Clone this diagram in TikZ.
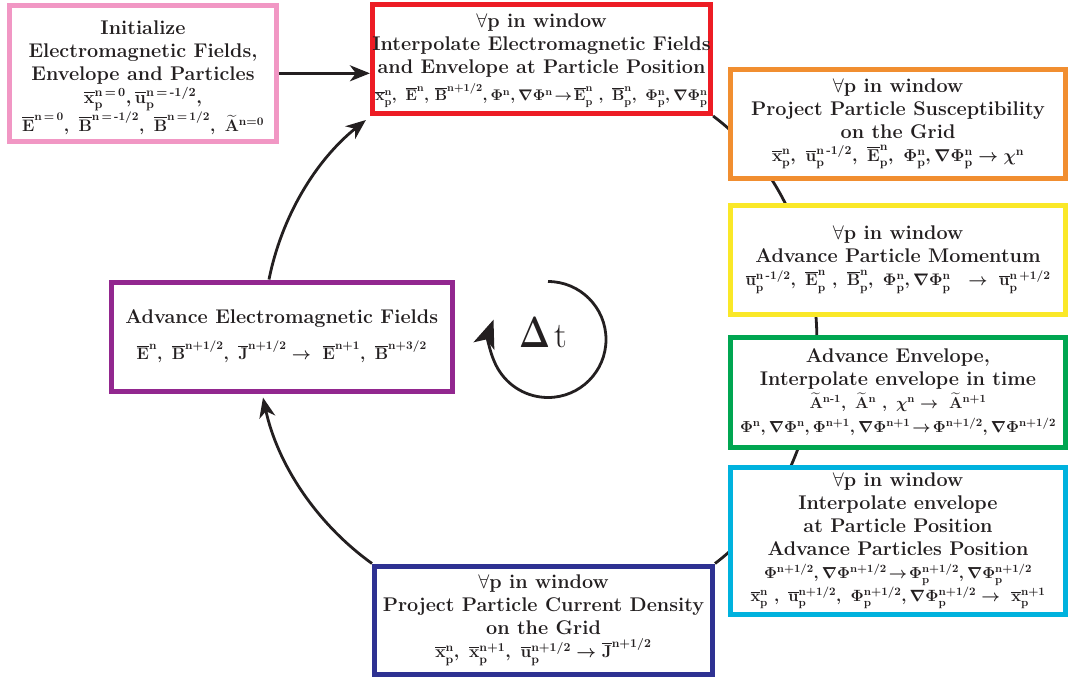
\RequirePackage{fix-cm}
\documentclass[tikz,border=0pt]{standalone}
\usepackage{amsmath}
\usepackage{graphicx}
\usetikzlibrary{arrows.meta,backgrounds}
\definecolor{pinkc}{RGB}{241,151,196}
\definecolor{redc}{RGB}{237,28,36}
\definecolor{orangec}{RGB}{241,142,48}
\definecolor{yellowc}{RGB}{250,232,40}
\definecolor{greenc}{RGB}{0,166,81}
\definecolor{cyanc}{RGB}{0,178,222}
\definecolor{dbluec}{RGB}{46,49,146}
\definecolor{purplec}{RGB}{146,39,143}
\definecolor{inkc}{RGB}{35,31,32}
\newcommand{\ob}[1]{\overline{\mathrm{#1}}}
\newcommand{\pn}{_{\mathrm{p}}^{\mathrm{n}}}
\newcommand{\tA}{\widetilde{\mathrm{A}}}
\newcommand{\fa}{{\unboldmath$\forall$}}
\newcommand{\fml}{\fontsize{17}{22}\selectfont}
\newcommand{\fl}[2]{\resizebox{#1}{!}{\fml #2}}
\tikzset{
  box/.style={draw=#1, line width=5pt, fill=white, inner sep=0pt, align=center,
    text=inkc, font=\fontsize{19.8}{23}\selectfont\bfseries\boldmath},
  conn/.style={draw=inkc, line width=2.8pt},
  arr/.style={-{Stealth[length=20pt,width=16pt,inset=6pt]}},
}
\begin{document}
\begin{tikzpicture}[x=1pt,y=1pt]
\useasboundingbox (0,0) rectangle (1068,-681);
\node[box=pinkc, minimum width=267pt, minimum height=135.5pt] (init) at (143,-73.3)
 {\fontsize{19.8}{22.3}\selectfont\rule{0pt}{22pt}Initialize\\ Electromagnetic Fields,\\ Envelope and Particles\\
  \fl{118pt}{$\ob{x}_{\mathrm{p}}^{\mathrm{n\,=\,0}},\ob{u}_{\mathrm{p}}^{\mathrm{n\,=\,\text{-}1/2}},$}\\
  \fl{242pt}{$\ob{E}^{\mathrm{n\,=\,0}},\ \ob{B}^{\mathrm{n\,=\,\text{-}1/2}},\ \ob{B}^{\mathrm{n\,=\,1/2}},\ \tA^{\mathrm{n=0}}$}};
\node[box=redc, minimum width=338pt, minimum height=109.5pt] (interp) at (541.5,-58.75)
 {\rule{0pt}{18pt}\fa p in window\\ Interpolate Electromagnetic Fields\\ and Envelope at Particle Position\\[4pt]
  \fl{332pt}{$\ob{x}\pn,\ \ob{E}^{\mathrm{n}},\,\ob{B}^{\mathrm{n+1/2}},\Phi^{\mathrm{n}},\nabla\Phi^{\mathrm{n}}\!\rightarrow\!\ob{E}\pn\ ,\ \ob{B}\pn,\ \Phi\pn,\nabla\Phi\pn$}};
\node[box=orangec, minimum width=335pt, minimum height=108.5pt] (susc) at (898,-123.75)
 {\fa p in window\\ Project Particle Susceptibility\\ on the Grid\\
  \fl{252pt}{$\ob{x}\pn,\ \ob{u}_{\mathrm{p}}^{\mathrm{n\,\text{-}1/2}},\ \ob{E}\pn,\ \Phi\pn,\nabla\Phi\pn\rightarrow\chi^{\mathrm{n}}$}};
\node[box=yellowc, minimum width=335pt, minimum height=108.5pt] (mom) at (898,-259.75)
 {\fa p in window\\ Advance Particle Momentum\\
  \fl{305pt}{$\ob{u}_{\mathrm{p}}^{\mathrm{n\,\text{-}1/2}},\ \ob{E}\pn\ ,\ \ob{B}\pn,\ \Phi\pn,\nabla\Phi\pn\ \ \rightarrow\ \ob{u}_{\mathrm{p}}^{\mathrm{n\,+1/2}}$}};
\node[box=greenc, minimum width=335pt, minimum height=110pt] (env) at (898,-392)
 {Advance Envelope,\\ Interpolate envelope in time\\
  \fl{177pt}{$\tA^{\mathrm{n\text{-}1}},\ \tA^{\mathrm{n}}\ ,\ \chi^{\mathrm{n}}\rightarrow\ \tA^{\mathrm{n+1}}$}\\[1pt]
  \fl{316pt}{$\Phi^{\mathrm{n}},\nabla\Phi^{\mathrm{n}},\Phi^{\mathrm{n+1}},\nabla\Phi^{\mathrm{n+1}}\!\rightarrow\!\Phi^{\mathrm{n+1/2}},\nabla\Phi^{\mathrm{n+1/2}}$}};
\node[box=cyanc, minimum width=335pt, minimum height=147pt] (push) at (898,-541)
 {\fa p in window\\ Interpolate envelope\\ at Particle Position\\ Advance Particles Position\\
  \fl{268pt}{$\Phi^{\mathrm{n+1/2}},\nabla\Phi^{\mathrm{n+1/2}}\!\rightarrow\!\Phi_{\mathrm{p}}^{\mathrm{n+1/2}},\nabla\Phi_{\mathrm{p}}^{\mathrm{n+1/2}}$}\\
  \fl{295pt}{$\ob{x}\pn\ ,\ \ob{u}_{\mathrm{p}}^{\mathrm{n+1/2}},\ \Phi_{\mathrm{p}}^{\mathrm{n+1/2}},\nabla\Phi_{\mathrm{p}}^{\mathrm{n+1/2}}\rightarrow\ \ob{x}_{\mathrm{p}}^{\mathrm{n+1}}$}};
\node[box=dbluec, minimum width=338pt, minimum height=108.5pt] (curr) at (543.5,-620.25)
 {\fa p in window\\ Project Particle Current Density\\ on the Grid\\
  \fl{216pt}{$\ob{x}\pn,\ \ob{x}_{\mathrm{p}}^{\mathrm{n+1}},\ \ob{u}_{\mathrm{p}}^{\mathrm{n+1/2}}\rightarrow\ob{J}^{\mathrm{n+1/2}}$}};
\node[box=purplec, minimum width=341.5pt, minimum height=109pt] (maxw) at (281.75,-336.5)
 {Advance Electromagnetic Fields\\[12pt]
  \fl{290pt}{$\ob{E}^{\mathrm{n}},\ \ob{B}^{\mathrm{n+1/2}},\ \ob{J}^{\mathrm{n+1/2}}\rightarrow\ \ob{E}^{\mathrm{n+1}},\ \ob{B}^{\mathrm{n+3/2}}$}};
% connectors
\draw[conn,arr] (init.east) -- (init.east -| interp.west);
\begin{pgfonlayer}{background}
\draw[conn] (interp.south east) to[bend left=53, looseness=0.98] (curr.north east);
\end{pgfonlayer}
\draw[conn,arr] (curr.north west) to[bend left=21, looseness=0.88] ([xshift=-18.75pt,yshift=-4pt]maxw.south);
\draw[conn,arr] ([xshift=-12.75pt]maxw.north) to[bend left=20, looseness=0.88] ([xshift=-4pt,yshift=-4pt]interp.south west);
% time step
\coordinate (dtc) at (548,-339.5);
\node[text=inkc, font=\fontsize{36}{40}\selectfont, anchor=base west, inner sep=0pt] (dt) at (519,-347) {\resizebox{31pt}{30pt}{\boldmath$\Delta$}\kern4pt t};
\draw[conn,-{Stealth[length=28pt,width=22pt,inset=7pt]}] (dtc) ++(90:58) arc[start angle=90, end angle=-200, radius=58];
\end{tikzpicture}
\end{document}
